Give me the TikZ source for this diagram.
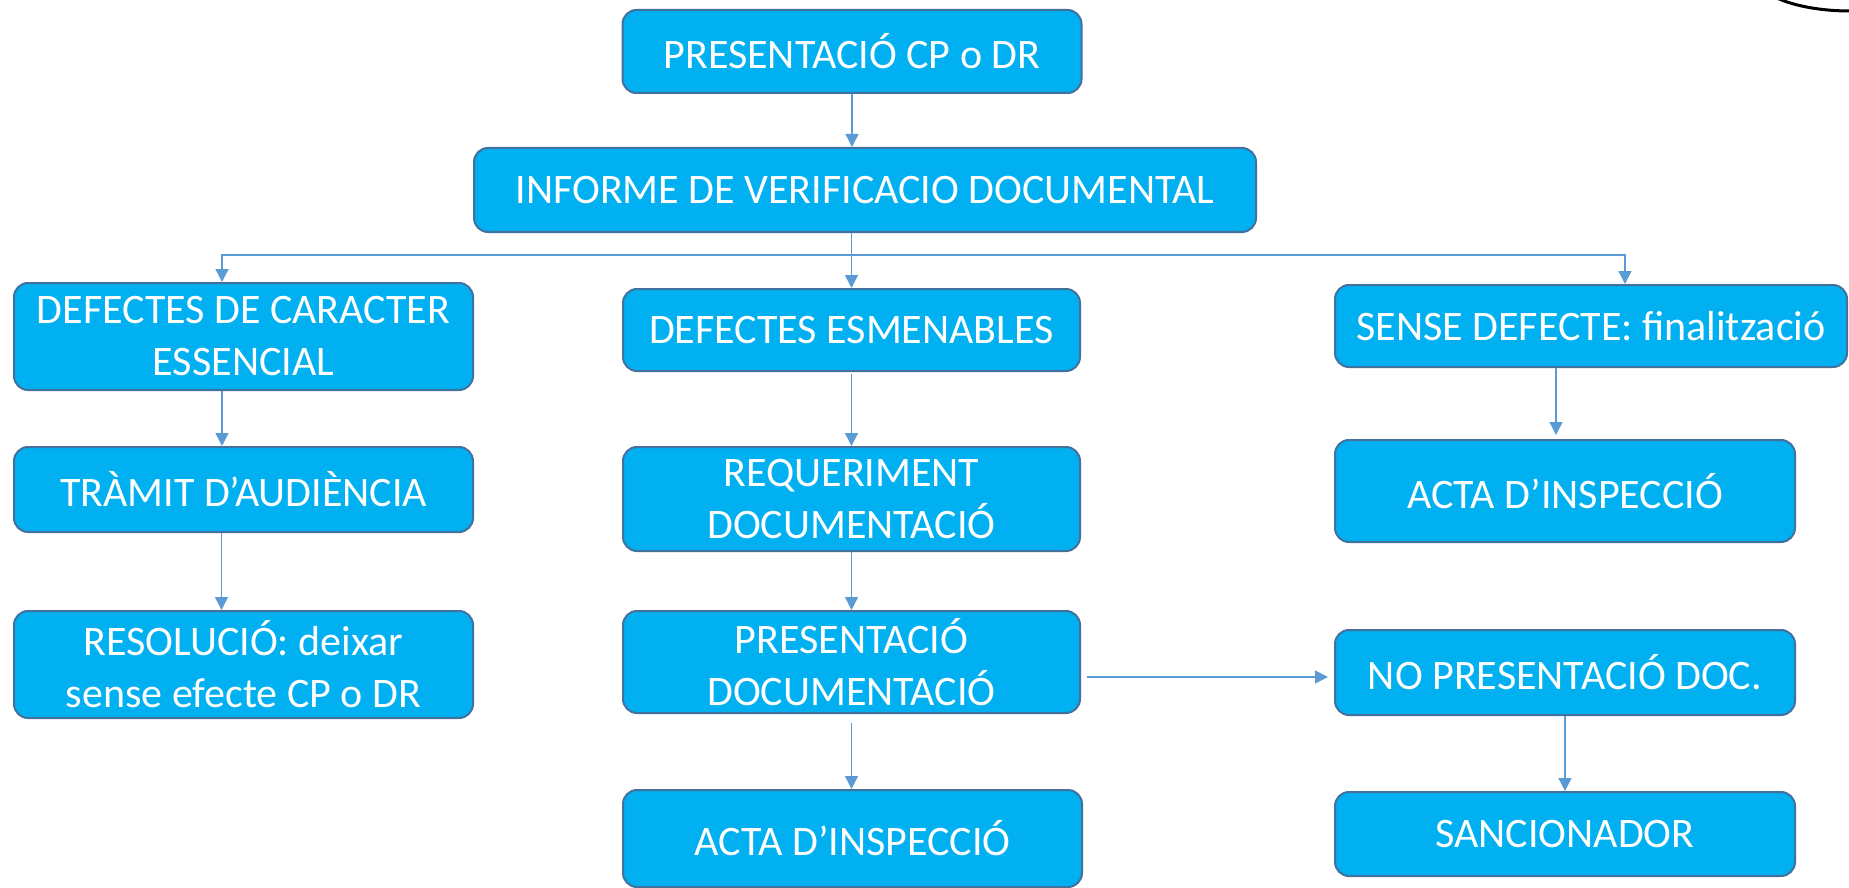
\documentclass[tikz,border=0pt]{standalone}
\usepackage{fontspec}
\setmainfont{Carlito}
\usetikzlibrary{arrows.meta}
\definecolor{boxfill}{HTML}{00B0F0}
\definecolor{boxline}{HTML}{41719C}
\definecolor{linkcol}{HTML}{5B9BD5}
\tikzset{
  box/.style={draw=boxline, fill=boxfill, line width=1pt, rounded corners=7pt, text=white, align=center, inner sep=0pt, font=\fontsize{21}{26}\selectfont},
  link/.style={draw=linkcol, line width=0.7pt, -{Triangle[width=6.5pt,length=6.5pt]}},
}
\begin{document}
\begin{tikzpicture}[x=0.5pt,y=-0.5pt]
\useasboundingbox (0,0) rectangle (1849,888);
\node[box, minimum width=229.5pt, minimum height=41.5pt] (pres) at (852,51.5) {PRESENTACIÓ CP o DR};
\node[box, minimum width=391pt, minimum height=42pt] (inf) at (865,190) {INFORME DE VERIFICACIO DOCUMENTAL};
\node[box, minimum width=229.5pt, minimum height=53.5pt] (car) at (243.5,336.5) {DEFECTES DE CARACTER\\ESSENCIAL};
\node[box, minimum width=228.5pt, minimum height=41pt] (esm) at (851.5,330) {DEFECTES ESMENABLES};
\node[box, minimum width=256pt, minimum height=41pt] (sense) at (1591,326) {SENSE DEFECTE: finalització};
\node[box, minimum width=229.5pt, minimum height=42.5pt] (tram) at (243.5,489.5) {TRÀMIT D’AUDIÈNCIA};
\node[box, minimum width=228.5pt, minimum height=52pt] (req) at (851.5,499) {REQUERIMENT\\DOCUMENTACIÓ};
\node[box, minimum width=230pt, minimum height=51pt] (acta1) at (1565,491) {ACTA D’INSPECCIÓ};
\node[box, minimum width=229.5pt, minimum height=53.5pt] (res) at (243.5,664.5) {RESOLUCIÓ: deixar\\sense efecte CP o DR};
\node[box, minimum width=228.5pt, minimum height=51pt] (pdoc) at (851.5,662) {PRESENTACIÓ\\DOCUMENTACIÓ};
\node[box, minimum width=230pt, minimum height=42.5pt] (nopres) at (1565,672.5) {NO PRESENTACIÓ DOC.};
\node[box, minimum width=229.5pt, minimum height=48.5pt] (acta2) at (852.5,838.5) {ACTA D’INSPECCIÓ};
\node[box, minimum width=230pt, minimum height=42pt] (sanc) at (1565,834) {SANCIONADOR};

\draw[link] (pres.south) -- (pres.south |- inf.north);
\draw[link] (esm.north |- inf.south) -- (esm.north);
\coordinate (split) at (851.5,255);
\draw[link] (split) -| ([xshift=-10.75pt]car.north);
\draw[link] (split) -| ([xshift=17pt]sense.north);
\draw[link] ([xshift=-10.75pt]car.south) -- ([xshift=-10.75pt]tram.north);
\draw[link] ([xshift=-11pt]tram.south) -- ([xshift=-11pt]res.north);
\draw[link, shorten <=1pt] (esm.south) -- (req.north);
\draw[link] (req.south) -- (pdoc.north);
\draw[link, shorten <=4.5pt] (pdoc.south) -- (pdoc.south |- acta2.north);
\draw[link, shorten <=3pt, shorten >=3pt] ([yshift=-7.5pt]pdoc.east) -- ([yshift=-7.5pt]pdoc.east -| nopres.west);
\draw[link, shorten >=2pt] ([xshift=-4.5pt]acta1.north |- sense.south) -- ([xshift=-4.5pt]acta1.north);
\draw[link] (nopres.south) -- (sanc.north);

\begin{scope}
\clip (0,0) rectangle (1849,888);
\draw[line width=1.5pt] (1850,-25) ellipse [x radius=95, y radius=36];
\end{scope}
\end{tikzpicture}
\end{document}
